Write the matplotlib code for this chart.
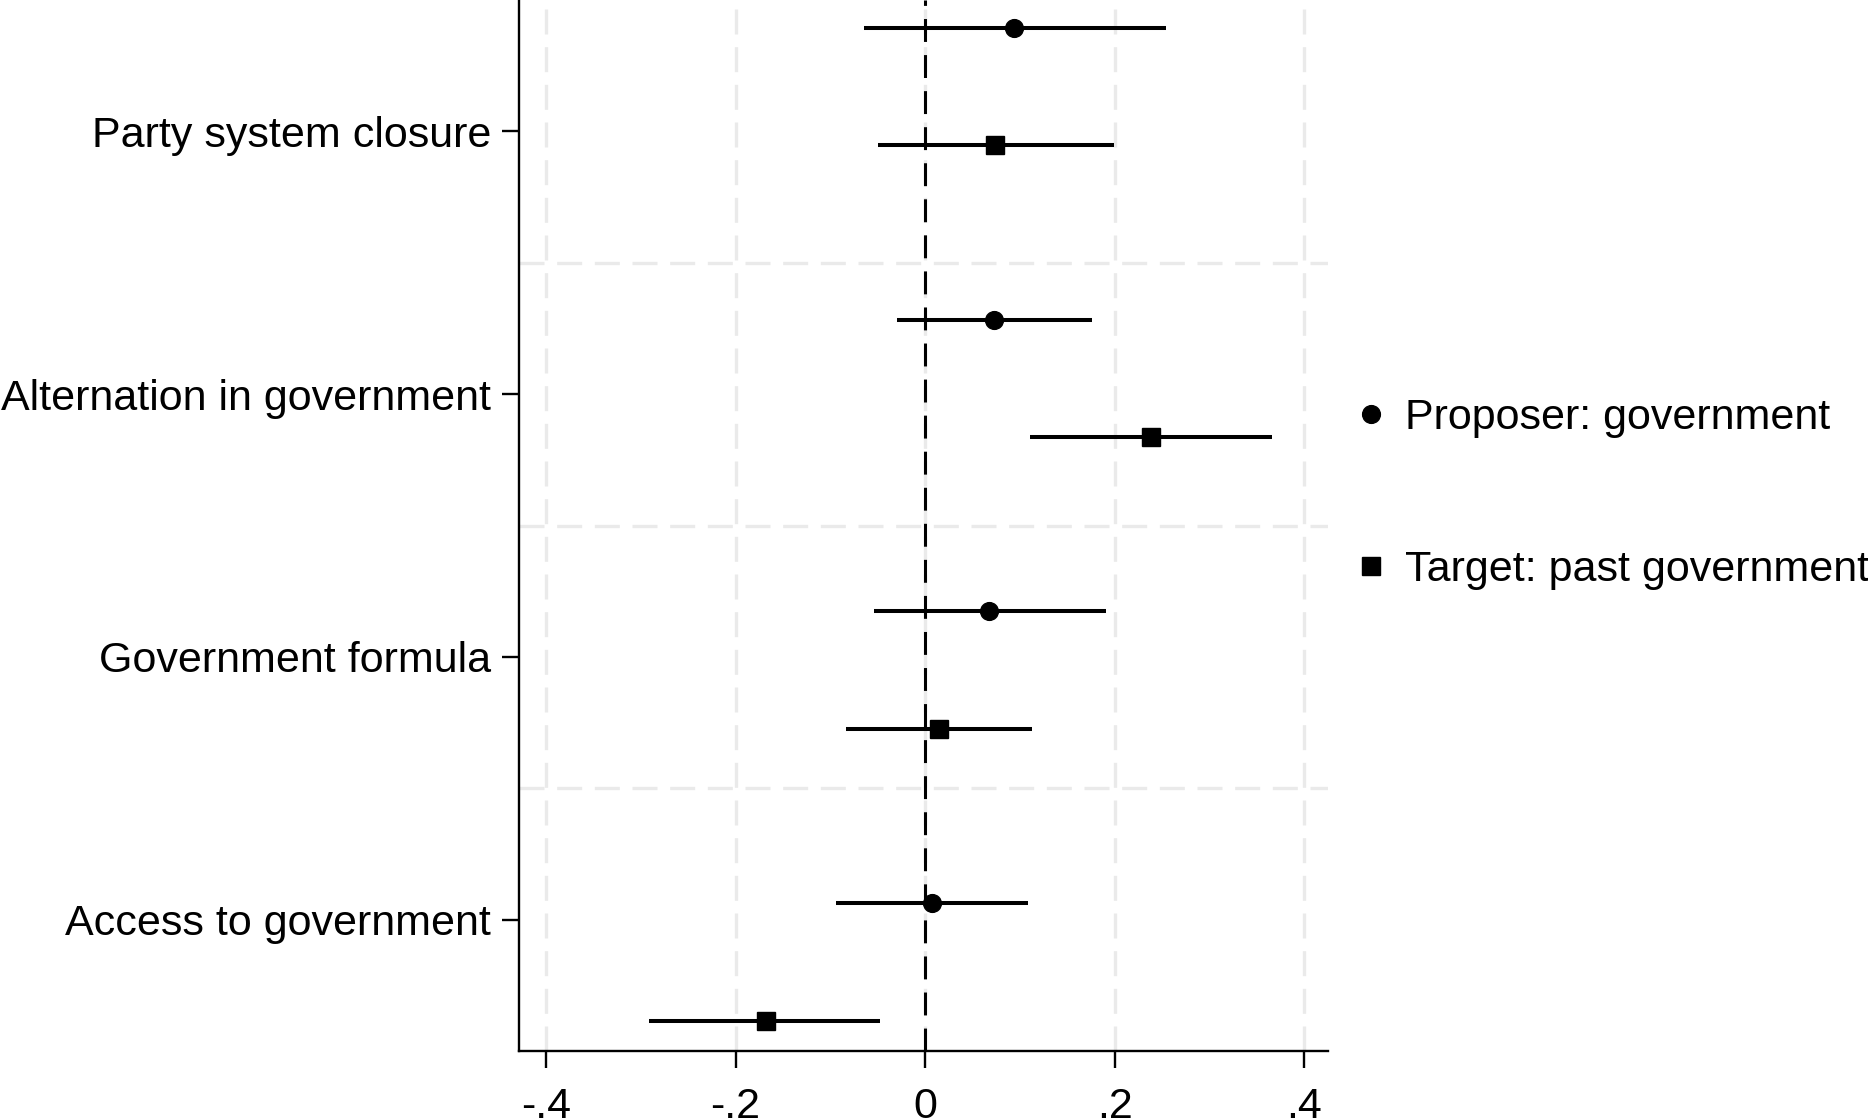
import matplotlib
matplotlib.use("Agg")
import matplotlib.pyplot as plt
from matplotlib.lines import Line2D
import numpy as np

plt.rcParams['font.family'] = ['Liberation Sans', 'DejaVu Sans']

categories = ["Party system closure", "Alternation in government",
              "Government formula", "Access to government"]
series_names = ["Proposer: government", "Target: past government"]

prop_coef = [0.094, 0.073, 0.068, 0.0075]
prop_lo = [-0.064, -0.030, -0.054, -0.094]
prop_hi = [0.254, 0.176, 0.191, 0.109]

targ_coef = [0.074, 0.238, 0.015, -0.168]
targ_lo = [-0.050, 0.111, -0.083, -0.291]
targ_hi = [0.199, 0.366, 0.113, -0.047]

xticks = [-0.4, -0.2, 0, 0.2, 0.4]
xticklabels = ["-.4", "-.2", "0", ".2", ".4"]

W, H = 1868, 1118
FS = 31
fig = plt.figure(figsize=(W / 100, H / 100), dpi=100)
ax = fig.add_axes([519 / W, 1 - 1051 / H, (1328 - 519) / W, 1051 / H])

n = len(categories)
grp = np.arange(n)
y_prop = -0.395 + grp * 1.111
y_targ = y_prop + 0.446

grid_kw = dict(color='#eaeaea', lw=2.4, dashes=(7.5, 3.8), zorder=0)
for xv in xticks:
    ax.axvline(xv, **grid_kw)
for yv in np.arange(n - 1) + 0.5:
    ax.axhline(yv, **grid_kw)

ax.axvline(0, color='black', lw=2.2, dashes=(7.5, 4.3), zorder=1)

lw_ci = 2.9
ax.hlines(y_prop, prop_lo, prop_hi, color='black', lw=lw_ci, zorder=2)
ax.hlines(y_targ, targ_lo, targ_hi, color='black', lw=lw_ci, zorder=2)
ax.plot(prop_coef, y_prop, 'o', color='black', ms=12.8, zorder=3)
ax.plot(targ_coef, y_targ, 's', color='black', ms=12.6, zorder=3)

ax.set_xlim(-0.4285, 0.4253)
ax.set_ylim(n - 0.5, -0.5)
ax.set_yticks(grp)
ax.set_yticklabels(categories, fontsize=FS)
ax.set_xticks(xticks)
ax.set_xticklabels(xticklabels, fontsize=FS)

for s in ['top', 'right']:
    ax.spines[s].set_visible(False)
for s in ['left', 'bottom']:
    ax.spines[s].set_linewidth(1.7)
ax.tick_params(axis='x', length=12, width=1.7, pad=14)
ax.tick_params(axis='y', length=12, width=1.7, pad=8)

handles = [Line2D([], [], marker='o', ls='none', color='black', ms=12.8),
           Line2D([], [], marker='s', ls='none', color='black', ms=12.6)]
fig.legend(handles, series_names, loc='center left',
           bbox_to_anchor=(1354 / W, 1 - 494 / H), frameon=False,
           fontsize=FS, borderpad=0, borderaxespad=0, handlelength=0.8,
           handletextpad=0.39, labelspacing=2.6)

fig.savefig("out.png", dpi=100)
